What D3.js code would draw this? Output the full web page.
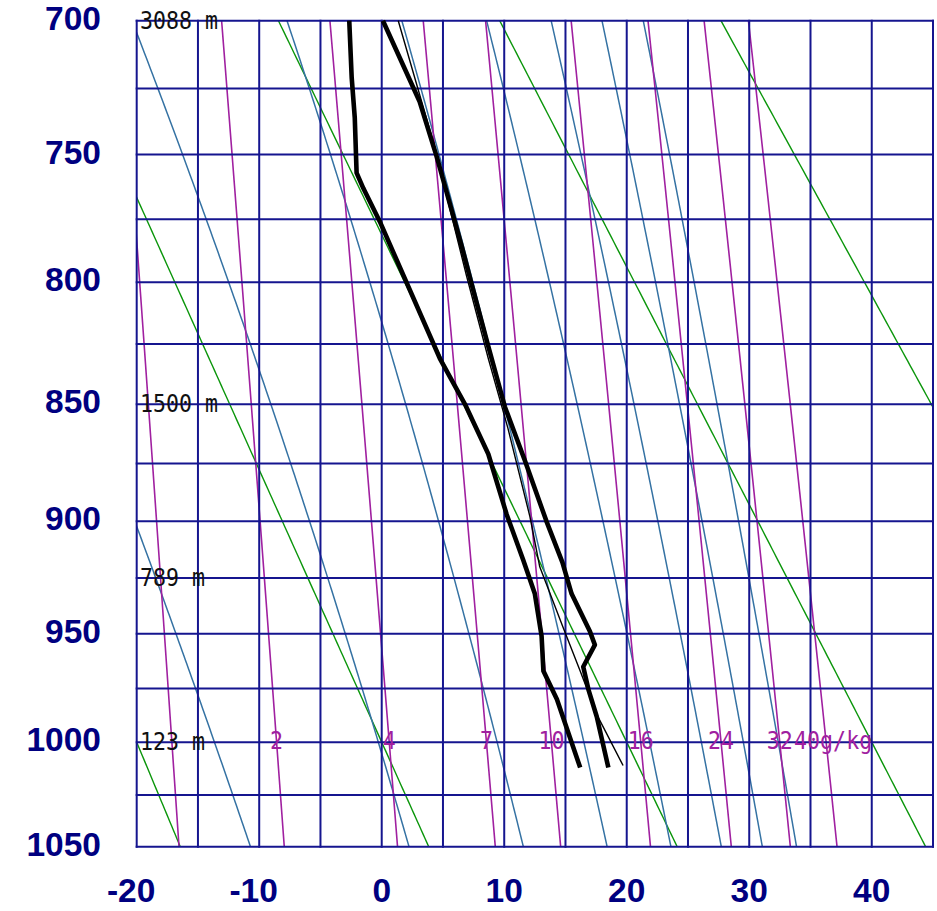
<!DOCTYPE html>
<html>
<head>
<meta charset="utf-8">
<script src="https://cdn.jsdelivr.net/npm/d3@7"></script>
<style>
  body { margin: 0; background: #fff; }
  svg { display: block; }
</style>
</head>
<body>
<div id="chart"></div>
<script>
// Stuve diagram, lower part (700 - 1050 hPa)

// axis ticks
const tempTicks  = [-20, -10, 0, 10, 20, 30, 40];              // deg C
const pressTicks = [700, 750, 800, 850, 900, 950, 1000, 1050]; // hPa

// background lines of the diagram
const isotherms     = d3.range(-20, 46, 5);
const isobars       = d3.range(700, 1051, 25);
const dryAdiabats   = [-20, 0, 20, 40, 60];                 // theta, deg C
const moistAdiabats = [-10, 10, 30, 50, 70, 90, 110, 130];  // theta-e, deg C
const mixingRatios  = [1, 2, 4, 7, 10, 16, 24, 32, 40];     // g/kg
const mixLabels     = [2, 4, 7, 10, 16, 24, 32, 40];        // the 1 g/kg label is hidden under "123 m"

// heights of the standard levels
const heightLevels = [700, 850, 925, 1000];
const heightLabels = ["3088 m", "1500 m", "789 m", "123 m"];

// sounding (hPa / deg C)
const tempP   = [1012, 988, 976, 965, 955, 949, 932, 918, 900, 874, 851, 826, 801, 786, 751, 730, 700];
const tempT   = [18.5, 17.55, 16.9, 16.45, 17.4, 17.0, 15.5, 14.75, 13.45, 11.7, 10.05, 8.7, 7.35, 6.55, 4.5, 3.1, 0.1];
const dewP    = [1012, 980, 967, 951, 932, 917, 897, 871, 850, 831, 776, 763, 757, 736, 721, 700];
const dewT    = [16.2, 14.3, 13.2, 13.05, 12.5, 11.55, 10.2, 8.7, 6.8, 4.75, -0.15, -1.5, -2.05, -2.2, -2.45, -2.65];
const parcelP = [1011, 987, 967, 947, 920, 898, 860, 831, 797, 745, 700];
const parcelT = [19.7, 17.55, 16.2, 14.8, 12.9, 12.1, 10.3, 8.7, 6.9, 4.2, 1.35];

const WIDTH = 937, HEIGHT = 911;
const NAVY = "#15158f";

const x = d3.scaleLinear().domain([-20, 45]).range([136.7, 933]);
// stuve: y is linear in p^kappa
const y = d3.scalePow().exponent(0.286).domain([700, 1050]).range([20.7, 846.7]);

// thermodynamics for the background curves
function dryT(theta, p) {
  return (theta + 273.15) * Math.pow(p / 1000, 0.286) - 273.15;
}
function satVap(t) {
  return 6.112 * Math.exp(17.67 * t / (t + 243.5));
}
function dewFromMix(w, p) {
  const l = Math.log(w * p / (622 + w) / 6.112);
  return 243.5 * l / (17.67 - l);
}
function thetaE(t, p) { // Bolton, saturated
  const tk = t + 273.15, es = satVap(t), r = 622 * es / (p - es);
  return tk * Math.pow(1000 / p, 0.2854 * (1 - 0.00028 * r)) *
    Math.exp((3.376 / tk - 0.00254) * r * (1 + 0.00081 * r));
}
function moistT(te, p) {
  let lo = -80, hi = 60;
  for (let i = 0; i < 50; i++) {
    const mid = (lo + hi) / 2;
    if (thetaE(mid, p) > te + 273.15) hi = mid; else lo = mid;
  }
  return (lo + hi) / 2;
}

const pLevels = d3.range(700, 1050.5, 2);
const line = d3.line().x(d => x(d[1])).y(d => y(d[0]));

const svg = d3.select("#chart")
  .append("svg")
    .attr("width", WIDTH)
    .attr("height", HEIGHT)
    .style("background", "#fff");

svg.append("clipPath")
    .attr("id", "plot")
  .append("rect")
    .attr("x", x(-20))
    .attr("y", y(700))
    .attr("width", x(45) - x(-20))
    .attr("height", y(1050) - y(700));

const curves = svg.append("g").attr("clip-path", "url(#plot)");

curves.selectAll(".dry").data(dryAdiabats)
  .enter()
  .append("path")
    .classed("dry", true)
    .attr("d", th => line(pLevels.map(p => [p, dryT(th, p)])))
    .attr("fill", "none")
    .attr("stroke", "#0c960c")
    .attr("stroke-width", 1.4);

curves.selectAll(".moist").data(moistAdiabats)
  .enter()
  .append("path")
    .classed("moist", true)
    .attr("d", te => line(pLevels.map(p => [p, moistT(te, p)])))
    .attr("fill", "none")
    .attr("stroke", "#3572a3")
    .attr("stroke-width", 1.5);

curves.selectAll(".mix").data(mixingRatios)
  .enter()
  .append("path")
    .classed("mix", true)
    .attr("d", w => line(pLevels.map(p => [p, dewFromMix(w, p)])))
    .attr("fill", "none")
    .attr("stroke", "#a020a0")
    .attr("stroke-width", 1.6);

// grid on top of the curves, like the original
const grid = svg.append("g")
  .attr("stroke", NAVY)
  .attr("stroke-width", 2);

grid.selectAll(".iso-t").data(isotherms)
  .enter()
  .append("line")
    .attr("x1", d => x(d)).attr("x2", d => x(d))
    .attr("y1", y(700) - 1).attr("y2", y(1050) + 1);

grid.selectAll(".iso-p").data(isobars)
  .enter()
  .append("line")
    .attr("x1", x(-20) - 1).attr("x2", x(45) + 1)
    .attr("y1", d => y(d)).attr("y2", d => y(d));

// axis labels
svg.append("g").selectAll("text").data(pressTicks)
  .enter()
  .append("text")
    .attr("x", 101)
    .attr("y", d => y(d) + 9)
    .attr("text-anchor", "end")
    .attr("font-family", "Liberation Sans, Arial, sans-serif")
    .attr("font-weight", "bold")
    .attr("font-size", 33.5)
    .attr("fill", "#000080")
    .text(d => d);

const xLab = svg.append("g")
  .attr("font-family", "Liberation Sans, Arial, sans-serif")
  .attr("font-weight", "bold")
  .attr("font-size", 33.5)
  .attr("fill", "#000080");

tempTicks.forEach(t => {
  // digits are centred on the tick, the minus hangs to the left
  const num = xLab.append("text")
    .attr("x", x(t))
    .attr("y", 902)
    .attr("text-anchor", "middle")
    .text(Math.abs(t));
  if (t < 0) {
    const w = num.node().getComputedTextLength();
    xLab.append("text")
      .attr("x", x(t) - w / 2)
      .attr("y", 902)
      .attr("text-anchor", "end")
      .text("-");
  }
});

// mixing ratio labels along 1000 hPa, centred on their lines
const mono = { family: "DejaVu Sans Mono, monospace", size: 24 };
const last = mixLabels.length - 1;

svg.append("g").selectAll("text").data(mixLabels)
  .enter()
  .append("text")
    // the last label is pushed a little right so it doesn't sit on "32"
    .attr("transform", (w, i) => `translate(${x(dewFromMix(w, 1000)) + (i === last ? 7 : 0)},${y(1000) + 7}) scale(0.9,1)`)
    .attr("text-anchor", "middle")
    .attr("font-family", mono.family)
    .attr("font-size", mono.size)
    .attr("fill", "#a020a0")
    .text((w, i) => i === last ? w + "g/kg" : w);

// heights of standard levels
svg.append("g").selectAll("text").data(heightLevels)
  .enter()
  .append("text")
    .attr("transform", p => `translate(140,${y(p) + 8}) scale(0.9,1)`)
    .attr("font-family", mono.family)
    .attr("font-size", mono.size)
    .attr("fill", "#111")
    .text((p, i) => heightLabels[i]);

// sounding
const sounding = svg.append("g")
  .attr("fill", "none")
  .attr("stroke", "#000")
  .attr("stroke-linejoin", "round");

sounding.append("path")
  .attr("d", line(parcelP.map((p, i) => [p, parcelT[i]])))
  .attr("stroke-width", 1.4);

sounding.append("path")
  .attr("d", line(dewP.map((p, i) => [p, dewT[i]])))
  .attr("stroke-width", 4.6);

sounding.append("path")
  .attr("d", line(tempP.map((p, i) => [p, tempT[i]])))
  .attr("stroke-width", 4.6);
</script>
</body>
</html>
